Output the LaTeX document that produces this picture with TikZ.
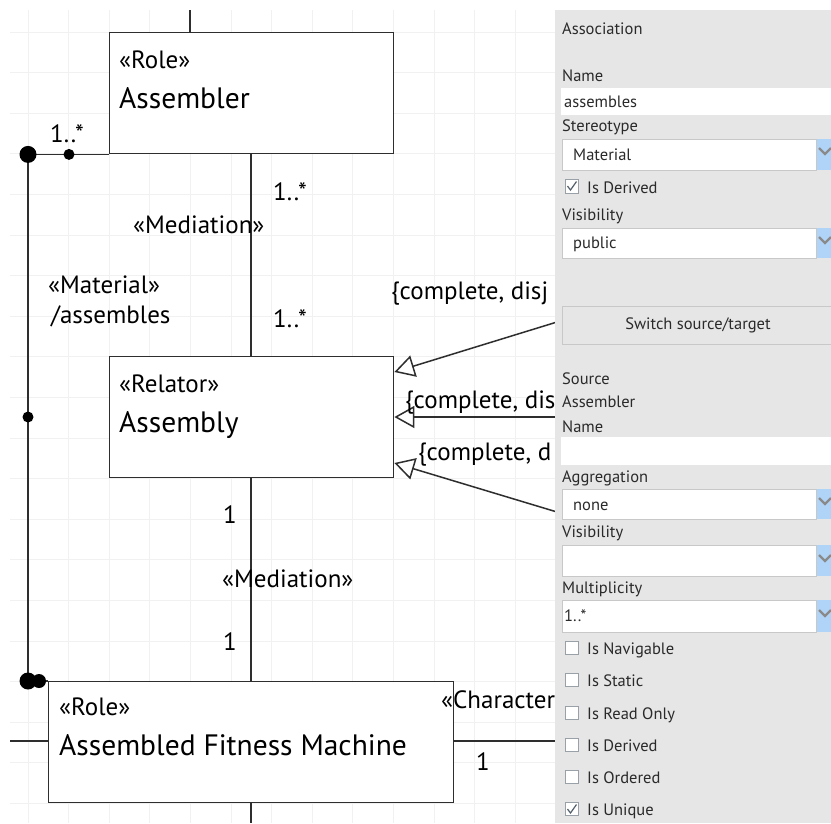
\documentclass[tikz,border=0pt]{standalone}
\usepackage{fontspec}
\setmainfont{PT Sans}
\usetikzlibrary{arrows.meta,calc}
\definecolor{gridc}{HTML}{F1F1F1}
\definecolor{ln}{HTML}{2E2E2E}
\definecolor{panel}{HTML}{E6E6E6}
\definecolor{fieldb}{HTML}{C8C8C8}
\definecolor{dropb}{HTML}{AFD4F7}
\definecolor{chev}{HTML}{8A8A8A}
\definecolor{ptext}{HTML}{2A2A2A}
\definecolor{cbord}{HTML}{9AA0A8}
\definecolor{cmark}{HTML}{55606C}
\tikzset{
  umlbox/.style={draw=ln, line width=1.4pt, fill=white, inner sep=0pt, anchor=north west},
  conn/.style={draw=ln, line width=1.5pt},
  gen/.style={conn, -{Triangle[open, length=20pt, width=22pt, line width=1.5pt]}},
  stereo/.style={anchor=base west, inner sep=0pt, font=\fontsize{25}{29}\selectfont, text=black},
  cname/.style={anchor=base west, inner sep=0pt, font=\fontsize{29.5}{34}\selectfont, text=black},
  lbl/.style={anchor=base west, inner sep=0pt, font=\fontsize{25}{29}\selectfont, text=black},
  ptxt/.style={anchor=base west, inner sep=0pt, font=\fontsize{16.5}{19}\selectfont, text=ptext},
  field/.style={fill=white, draw=fieldb, line width=0.8pt},
  chk/.style={fill=white, draw=cbord, line width=0.8pt},
  tick/.style={draw=cmark, line width=1.2pt},
  chevron/.style={draw=chev, line width=2.4pt},
}
\begin{document}
\begin{tikzpicture}[x=1pt,y=-1pt]
\useasboundingbox (0,0) rectangle (831,823);
\fill[white] (0,0) rectangle (831,823);

\begin{scope}
\clip (0,0) rectangle (555,823);
% background grid of the canvas
\foreach \k in {0,...,12}
  \draw[gridc, line width=1pt] ({28+40.6*\k},10) -- ({28+40.6*\k},823);
\foreach \k in {0,...,19}
  \draw[gridc, line width=1pt] (10,{32+40.6*\k}) -- (555,{32+40.6*\k});

% classes
\node[umlbox, minimum width=284pt, minimum height=121pt] (asm) at (109,32) {};
\node[umlbox, minimum width=284pt, minimum height=121pt] (rel) at (109,356) {};
\node[umlbox, minimum width=405pt, minimum height=121pt] (afm) at (48,681) {};

\node[stereo] (asmS) at (119,68) {«Role»};
\node[cname]  (asmN) at (119,108) {Assembler};
\node[stereo] (relS) at (119,392) {«Relator»};
\node[cname]  (relN) at (119,432) {Assembly};
\node[stereo] (afmS) at (59,715) {«Role»};
\node[cname]  (afmN) at (59,755) {Assembled Fitness Machine};

% helper coordinates for connector routes
\coordinate (topEnd) at (190,10);
\coordinate (midX) at (251,0);
\coordinate (matX) at (28,0);
\coordinate (botEnd) at (251,823);
\coordinate (leftEnd) at (10,741);
\coordinate (rightEnd) at (555,741);
\coordinate (g1) at (557,322);
\coordinate (g2) at (557,417);
\coordinate (g3) at (557,512);

% plain connectors
\draw[conn] (topEnd) -- (topEnd |- asm.north);
\draw[conn] (asm.south -| midX) -- (rel.north -| midX);
\draw[conn] (rel.south -| midX) -- (afm.north -| midX);
\draw[conn] (afm.south -| botEnd) -- (botEnd);
\draw[conn] (leftEnd) -- (leftEnd -| afm.west);
\draw[conn] (afm.east |- rightEnd) -- (rightEnd);

% material relation with its dots
\draw[conn] (asm.south west) -- (asm.south west -| matX) -- (afm.north west -| matX) -- (afm.north west);
\fill[black] (asm.south west -| matX) circle (8.5pt);
\fill[black] ($(asm.south west -| matX)+(41,0)$) circle (5.5pt);
\fill[black] (28,417) circle (5.5pt);
\fill[black] (afm.north west -| matX) circle (8.5pt);
\fill[black] ($(afm.north west -| matX)+(11,0)$) circle (7pt);

% generalizations into Assembly
\draw[gen] (g1) -- ($(rel.north east)+(0,16)$);
\draw[gen] (g2) -- (rel.east |- g2);
\draw[gen] (g3) -- ($(rel.north east)+(0,107)$);

% connector labels
\node[lbl] (m1a) at (50,142) {1..*};
\node[lbl] (m1b) at (273,200) {1..*};
\node[lbl] (med1) at (133,233) {«Mediation»};
\node[lbl] (matS) at (48,293) {«Material»};
\node[lbl] (matN) at (51,323) {/assembles};
\node[lbl] (m1c) at (273,327) {1..*};
\node[lbl] (m2a) at (223,523) {1};
\node[lbl] (med2) at (222,587) {«Mediation»};
\node[lbl] (m2b) at (223,650) {1};
\node[lbl] (gs1) at (391,299) {\{complete, disj};
\node[lbl] (gs2) at (405,408) {\{complete, dis};
\node[lbl] (gs3) at (418,460) {\{complete, d};
\node[lbl] (chS) at (441,708) {«Character};
\node[lbl] (m3) at (476,770) {1};
\end{scope}

% property panel
\fill[panel] (555,10) rectangle (831,823);
\node[ptxt] (pA) at (562,34) {Association};
\node[ptxt] (pN) at (562,81) {Name};
\fill[white] (561,88) rectangle (831,115);
\node[ptxt] (pNv) at (564,107) {assembles};
\node[ptxt] (pS) at (562,131) {Stereotype};
\draw[field] (562,139) rectangle (816,170);
\fill[dropb] (816.5,139) rectangle (831,170);
\draw[chevron] (819,148) -- (825,154) -- (831,148);
\node[ptxt] (pSv) at (573,160) {Material};
\draw[chk] (565,179.5) rectangle (578.5,193);
\draw[tick] (567.5,186) -- (570.5,190) -- (576.5,181.5);
\node[ptxt] (pD) at (587,193) {Is Derived};
\node[ptxt] (pV) at (562,220) {Visibility};
\draw[field] (562,228) rectangle (816,258);
\fill[dropb] (816.5,228) rectangle (831,258);
\draw[chevron] (819,237) -- (825,243) -- (831,237);
\node[ptxt] (pVv) at (573,248) {public};
\draw[draw=fieldb, fill=panel, line width=0.8pt] (562,306) rectangle (832,344);
\node[ptxt, anchor=base] (pSw) at (698,329) {Switch source/target};
\node[ptxt] (pSrc) at (562,384) {Source};
\node[ptxt] (pSrcN) at (562,407) {Assembler};
\node[ptxt] (pN2) at (562,432) {Name};
\fill[white] (561,437) rectangle (831,465);
\node[ptxt] (pAg) at (562,482) {Aggregation};
\draw[field] (562,489) rectangle (816,519);
\fill[dropb] (816.5,489) rectangle (831,519);
\draw[chevron] (819,498) -- (825,504) -- (831,498);
\node[ptxt] (pAgv) at (573,510) {none};
\node[ptxt] (pV2) at (562,537) {Visibility};
\draw[field] (562,545) rectangle (816,576);
\fill[dropb] (816.5,545) rectangle (831,576);
\draw[chevron] (819,555) -- (825,561) -- (831,555);
\node[ptxt] (pM) at (562,593) {Multiplicity};
\draw[field] (562,600) rectangle (816,632);
\fill[dropb] (816.5,600) rectangle (831,632);
\draw[chevron] (819,610) -- (825,616) -- (831,610);
\node[ptxt] (pMv) at (564,621) {1..*};

% check boxes of the source end
\foreach \yy/\tt/\nm in {648/Is Navigable/cb1, 680/Is Static/cb2, 713/Is Read Only/cb3, 745/Is Derived/cb4, 777/Is Ordered/cb5, 809/Is Unique/cb6} {
  \draw[chk] (565,\yy-6.5) rectangle (578.5,\yy+6.5);
  \node[ptxt] (\nm) at (587,\yy+6.5) {\tt};
}
\draw[tick] (567.5,809) -- (570.5,813) -- (576.5,804.5);
\end{tikzpicture}
\end{document}
